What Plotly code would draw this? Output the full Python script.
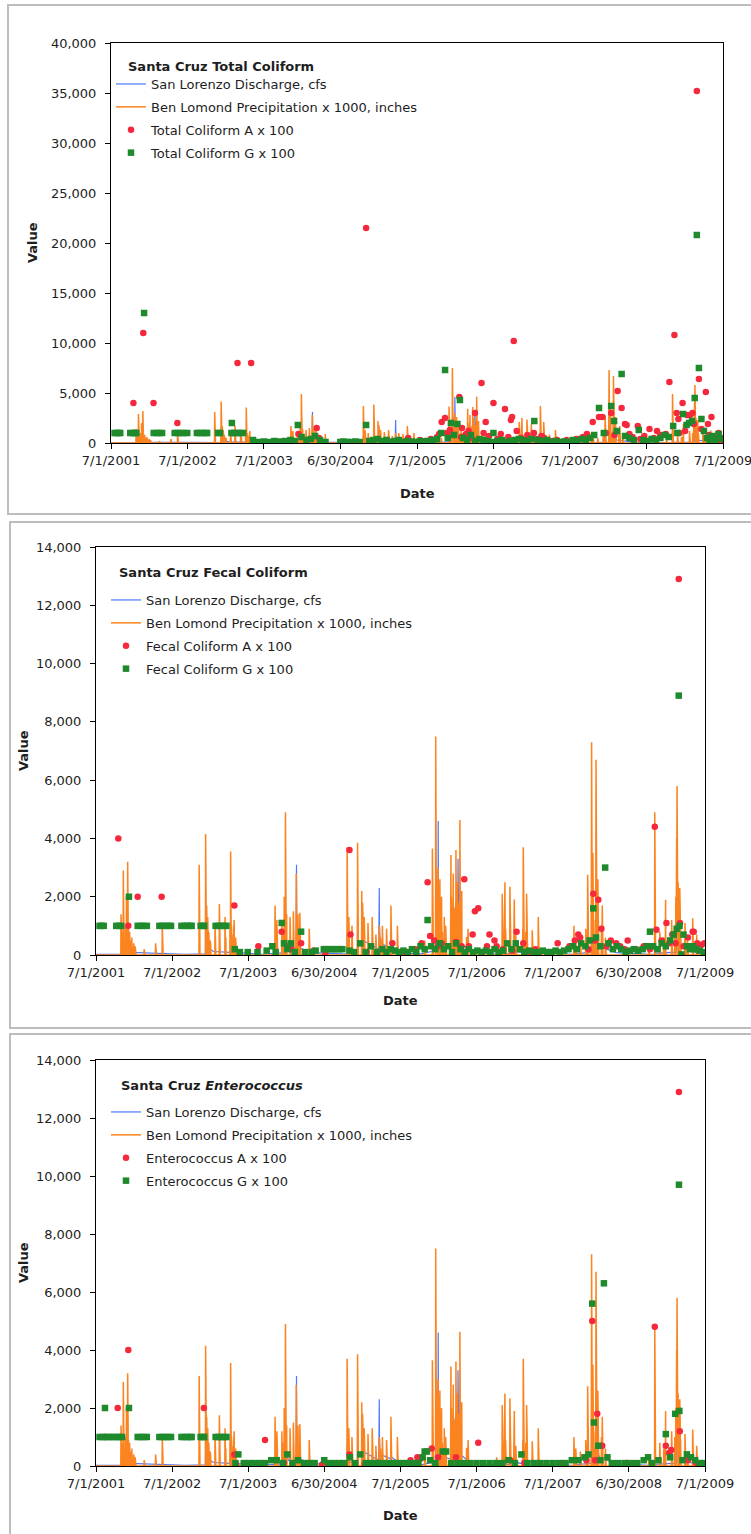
import pandas as pd
import plotly.graph_objects as go

W, H = 751, 1534

TICK_DATES = ["2001-07-01", "2002-07-01", "2003-07-01", "2004-06-30", "2005-07-01",
              "2006-07-01", "2007-07-01", "2008-06-30", "2009-07-01"]
TICK_LABELS = ["7/1/2001", "7/1/2002", "7/1/2003", "6/30/2004", "7/1/2005",
               "7/1/2006", "7/1/2007", "6/30/2008", "7/1/2009"]

# San Lorenzo River discharge, cfs
DISCHARGE = [
    ("2001-07-01", 20), ("2001-11-29", 30), ("2001-11-30", 600), ("2001-12-02", 150),
    ("2001-12-10", 90), ("2002-04-01", 60), ("2002-09-01", 25),
    ("2002-12-08", 40), ("2002-12-09", 1500), ("2002-12-11", 400), ("2002-12-20", 250),
    ("2003-01-15", 120), ("2003-04-07", 90), ("2003-04-08", 1200), ("2003-04-10", 300),
    ("2003-05-15", 80), ("2003-09-01", 25),
    ("2003-12-26", 80), ("2003-12-27", 1800), ("2003-12-29", 500), ("2004-01-10", 200),
    ("2004-02-16", 150), ("2004-02-17", 1200), ("2004-02-18", 3100), ("2004-02-19", 1500),
    ("2004-02-21", 600), ("2004-03-01", 250), ("2004-05-01", 80), ("2004-09-01", 25),
    ("2004-10-17", 30), ("2004-10-18", 700), ("2004-10-20", 150),
    ("2004-12-06", 80), ("2004-12-07", 1300), ("2004-12-09", 400), ("2004-12-30", 300),
    ("2004-12-31", 1500), ("2005-01-02", 500),
    ("2005-03-19", 200), ("2005-03-20", 900), ("2005-03-21", 2300), ("2005-03-22", 1000),
    ("2005-03-25", 400), ("2005-05-16", 250), ("2005-05-17", 800), ("2005-05-19", 300),
    ("2005-07-01", 80), ("2005-10-01", 30),
    ("2005-12-16", 150), ("2005-12-17", 2500), ("2005-12-19", 800), ("2005-12-28", 1500),
    ("2005-12-29", 4600), ("2005-12-30", 2000), ("2006-01-02", 800), ("2006-01-20", 300),
    ("2006-02-27", 250), ("2006-02-28", 1400), ("2006-03-02", 500), ("2006-03-24", 1800),
    ("2006-03-26", 700), ("2006-04-02", 900), ("2006-04-03", 3300), ("2006-04-04", 2500),
    ("2006-04-06", 1600), ("2006-04-09", 800), ("2006-04-14", 400), ("2006-06-01", 120),
    ("2006-10-01", 35),
    ("2006-12-07", 60), ("2006-12-08", 600), ("2006-12-10", 150), ("2007-02-09", 80),
    ("2007-02-10", 900), ("2007-02-12", 200), ("2007-05-01", 60), ("2007-10-01", 25),
    ("2008-01-03", 100), ("2008-01-04", 2600), ("2008-01-06", 900), ("2008-01-24", 300),
    ("2008-01-25", 2400), ("2008-01-27", 800), ("2008-02-10", 300), ("2008-05-01", 80),
    ("2008-10-01", 25), ("2008-11-01", 30), ("2008-11-02", 400), ("2008-11-04", 60),
    ("2009-02-14", 100), ("2009-02-15", 1200), ("2009-02-17", 2000), ("2009-02-19", 800),
    ("2009-03-02", 700), ("2009-03-05", 300), ("2009-04-15", 120), ("2009-07-01", 40),
]

# Ben Lomond daily precipitation x 1000, inches (days not listed had no rain)
PRECIP = [
    ("2001-10-29", 1400), ("2001-11-06", 800), ("2001-11-09", 2900), ("2001-11-12", 1200),
    ("2001-11-20", 1000), ("2001-11-24", 2000), ("2001-11-27", 1500), ("2001-11-30", 3200),
    ("2001-12-02", 1500), ("2001-12-04", 900), ("2001-12-09", 800), ("2001-12-14", 500),
    ("2001-12-20", 600), ("2001-12-29", 400), ("2002-01-05", 300), ("2002-02-17", 200),
    ("2002-04-13", 400), ("2002-05-15", 1000),
    ("2002-11-08", 3100), ("2002-11-10", 800), ("2002-12-09", 4150), ("2002-12-11", 1200),
    ("2002-12-12", 2000), ("2002-12-14", 1700), ("2002-12-15", 1000), ("2002-12-16", 1500),
    ("2002-12-17", 1100), ("2002-12-19", 1300), ("2002-12-21", 900), ("2002-12-24", 800),
    ("2002-12-27", 700), ("2002-12-30", 500), ("2003-01-02", 400), ("2003-01-23", 1100),
    ("2003-02-13", 1750), ("2003-02-15", 800), ("2003-03-12", 1300), ("2003-03-16", 600),
    ("2003-04-05", 900), ("2003-04-08", 3550), ("2003-04-12", 1000), ("2003-04-14", 700),
    ("2003-04-22", 800), ("2003-04-25", 1200), ("2003-05-02", 600),
    ("2003-11-07", 1700), ("2003-11-16", 1200), ("2003-12-10", 1200), ("2003-12-14", 800),
    ("2003-12-21", 2000), ("2003-12-24", 1000), ("2003-12-25", 1500), ("2003-12-27", 4900),
    ("2003-12-29", 1800), ("2003-12-30", 2500), ("2004-01-01", 900), ("2004-01-02", 1400),
    ("2004-01-18", 1300), ("2004-02-03", 1500), ("2004-02-16", 1200), ("2004-02-17", 2800),
    ("2004-02-18", 2000), ("2004-02-19", 900), ("2004-02-21", 1000), ("2004-02-25", 1400),
    ("2004-02-26", 800), ("2004-03-05", 1450), ("2004-04-19", 900),
    ("2004-10-18", 3700), ("2004-10-19", 1200), ("2004-10-23", 700), ("2004-10-26", 1300),
    ("2004-11-10", 1000), ("2004-12-07", 3850), ("2004-12-09", 1500), ("2004-12-27", 2200),
    ("2004-12-28", 1300), ("2004-12-30", 1100), ("2004-12-31", 1800), ("2005-01-01", 900),
    ("2005-01-03", 900), ("2005-01-07", 800), ("2005-01-08", 1300), ("2005-01-10", 700),
    ("2005-01-26", 1100), ("2005-02-15", 1300), ("2005-02-16", 700), ("2005-02-19", 600),
    ("2005-03-05", 700), ("2005-03-21", 1000), ("2005-03-22", 900), ("2005-03-27", 600),
    ("2005-04-05", 1000), ("2005-04-25", 900), ("2005-05-16", 1700), ("2005-05-19", 600),
    ("2005-06-16", 1000), ("2005-06-19", 950),
    ("2005-10-25", 500), ("2005-12-01", 3650), ("2005-12-02", 2000), ("2005-12-03", 1500),
    ("2005-12-17", 7500), ("2005-12-18", 2300), ("2005-12-19", 2000), ("2005-12-20", 1500),
    ("2005-12-21", 1800), ("2005-12-22", 2600), ("2005-12-25", 1600), ("2005-12-26", 2300),
    ("2005-12-28", 3000), ("2005-12-29", 1800), ("2005-12-30", 1400), ("2005-12-31", 2400),
    ("2006-01-02", 1500), ("2006-01-04", 1700), ("2006-01-06", 2600), ("2006-01-10", 1200),
    ("2006-01-14", 2000), ("2006-01-18", 800), ("2006-01-27", 1300), ("2006-02-03", 1000),
    ("2006-02-27", 1500), ("2006-02-28", 3430), ("2006-03-02", 2000), ("2006-03-03", 1500),
    ("2006-03-06", 1300), ("2006-03-09", 1800), ("2006-03-11", 2800), ("2006-03-13", 1500),
    ("2006-03-15", 1600), ("2006-03-18", 1200), ("2006-03-21", 1600), ("2006-03-24", 3600),
    ("2006-03-26", 1400), ("2006-03-28", 2000), ("2006-03-31", 2500), ("2006-04-02", 1200),
    ("2006-04-04", 1800), ("2006-04-06", 1500), ("2006-04-09", 1000), ("2006-04-12", 4630),
    ("2006-04-14", 1100), ("2006-04-16", 1400), ("2006-04-18", 900), ("2006-04-21", 2200),
    ("2006-05-14", 630), ("2006-05-21", 900),
    ("2006-10-05", 300), ("2006-11-01", 2100), ("2006-11-02", 1000), ("2006-11-12", 1100),
    ("2006-11-14", 2500), ("2006-11-15", 1200), ("2006-11-17", 900), ("2006-12-08", 2340),
    ("2006-12-09", 1000), ("2006-12-10", 1200), ("2006-12-12", 1500), ("2006-12-27", 800),
    ("2006-12-29", 1900), ("2007-01-05", 700), ("2007-02-08", 900), ("2007-02-10", 3700),
    ("2007-02-11", 1700), ("2007-02-13", 1000), ("2007-02-22", 800), ("2007-02-26", 2100),
    ("2007-02-27", 900), ("2007-03-25", 850), ("2007-04-23", 1300),
    ("2007-10-11", 1000), ("2007-10-20", 600), ("2007-11-11", 500), ("2007-12-07", 900),
    ("2007-12-16", 2750), ("2007-12-17", 1200), ("2007-12-18", 900), ("2007-12-20", 1500),
    ("2008-01-03", 2700), ("2008-01-04", 7300), ("2008-01-05", 3200), ("2008-01-06", 2500),
    ("2008-01-07", 1500), ("2008-01-10", 3500), ("2008-01-22", 1200), ("2008-01-24", 2000),
    ("2008-01-25", 6700), ("2008-01-26", 3400), ("2008-01-27", 2600), ("2008-01-28", 1800),
    ("2008-01-31", 1000), ("2008-02-02", 1500), ("2008-02-03", 2600), ("2008-02-05", 1950),
    ("2008-02-20", 1000), ("2008-02-23", 900), ("2008-02-24", 1700), ("2008-03-10", 600),
    ("2008-10-04", 400), ("2008-11-02", 4900), ("2008-11-26", 800), ("2008-12-15", 600),
    ("2008-12-23", 800), ("2008-12-24", 1900), ("2009-01-22", 1200), ("2009-02-06", 1000),
    ("2009-02-09", 900), ("2009-02-11", 2000), ("2009-02-13", 1500), ("2009-02-14", 2600),
    ("2009-02-15", 4000), ("2009-02-16", 3800), ("2009-02-17", 5800), ("2009-02-18", 2400),
    ("2009-02-20", 1800), ("2009-02-22", 2500), ("2009-02-23", 1200), ("2009-02-26", 1400),
    ("2009-03-01", 1200), ("2009-03-02", 2300), ("2009-03-03", 1800), ("2009-03-04", 1500),
    ("2009-03-06", 900), ("2009-03-27", 1100), ("2009-04-08", 500), ("2009-05-03", 1260),
    ("2009-05-05", 800), ("2009-05-22", 700),
]

# Total coliform (MPN/100 mL) x 100, sites A and G
TC_A = [
    ("2001-10-16", 4000), ("2001-12-02", 11000), ("2002-01-20", 4000), ("2002-05-14", 2000),
    ("2003-01-31", 1000), ("2003-02-25", 8000), ("2003-05-01", 8000), ("2003-12-13", 900),
    ("2004-03-09", 1500), ("2004-03-20", 500), ("2004-10-31", 21500), ("2005-02-10", 300),
    ("2005-04-01", 200), ("2005-05-20", 500), ("2005-07-15", 300), ("2005-08-10", 200),
    ("2005-09-05", 400), ("2005-10-05", 600), ("2005-10-15", 900), ("2005-10-27", 2100),
    ("2005-11-12", 2500), ("2005-11-20", 1000), ("2005-12-05", 1300), ("2005-12-20", 800),
    ("2006-01-19", 4600), ("2006-01-28", 600), ("2006-02-01", 1500), ("2006-02-20", 900),
    ("2006-03-04", 1200), ("2006-03-18", 500), ("2006-04-04", 3000), ("2006-05-05", 6000),
    ("2006-05-15", 1000), ("2006-05-25", 2100), ("2006-06-10", 700), ("2006-07-01", 4000),
    ("2006-07-20", 400), ("2006-08-05", 900), ("2006-08-25", 3400), ("2006-09-10", 600),
    ("2006-09-22", 2300), ("2006-09-28", 2600), ("2006-10-06", 10200), ("2006-10-20", 1200),
    ("2006-11-10", 500), ("2006-11-25", 300), ("2006-12-10", 800), ("2007-01-10", 1000),
    ("2007-01-25", 400), ("2007-02-15", 700), ("2007-03-01", 500), ("2007-04-10", 200),
    ("2007-05-01", 300), ("2007-06-15", 300), ("2007-08-01", 400), ("2007-09-01", 600),
    ("2007-09-20", 900), ("2007-10-18", 2100), ("2007-11-17", 2600), ("2007-12-03", 2600),
    ("2007-12-20", 1000), ("2008-01-14", 3000), ("2008-01-30", 800), ("2008-02-14", 5200),
    ("2008-03-04", 3500), ("2008-03-20", 1900), ("2008-03-28", 1800), ("2008-04-10", 900),
    ("2008-04-25", 600), ("2008-05-20", 1700), ("2008-06-01", 400), ("2008-06-20", 700),
    ("2008-07-15", 1400), ("2008-08-05", 500), ("2008-08-20", 1200), ("2008-09-05", 800),
    ("2008-10-01", 900), ("2008-10-18", 6100), ("2008-11-11", 10800), ("2008-11-22", 3000),
    ("2008-11-30", 2400), ("2008-12-05", 1000), ("2008-12-20", 4000), ("2009-01-01", 1200),
    ("2009-01-10", 2800), ("2009-01-25", 2800), ("2009-02-05", 3000), ("2009-02-12", 1900),
    ("2009-02-26", 35200), ("2009-03-08", 6400), ("2009-03-20", 1400), ("2009-04-10", 5100),
    ("2009-04-20", 1900), ("2009-04-25", 800), ("2009-05-07", 2600), ("2009-05-20", 600),
    ("2009-06-10", 1000), ("2009-06-20", 300), ("2009-06-25", 500),
]
TC_G = [
    ("2001-07-18", 1000), ("2001-07-28", 1000), ("2001-08-07", 1000), ("2001-08-14", 1000),
    ("2001-10-01", 1000), ("2001-10-13", 1000), ("2001-10-25", 1000), ("2001-10-30", 1000),
    ("2001-12-06", 13000),
    ("2002-01-21", 1000), ("2002-02-04", 1000), ("2002-02-18", 1000), ("2002-03-02", 1000),
    ("2002-05-01", 1000), ("2002-05-15", 1000), ("2002-05-29", 1000), ("2002-06-12", 1000),
    ("2002-06-30", 1000), ("2002-08-15", 1000), ("2002-08-29", 1000), ("2002-09-12", 1000),
    ("2002-09-26", 1000), ("2002-10-03", 1000), ("2002-11-24", 1000), ("2002-12-03", 1000),
    ("2003-01-27", 1000), ("2003-01-29", 2000), ("2003-02-10", 1000), ("2003-02-24", 1000),
    ("2003-03-10", 1000), ("2003-03-24", 1000),
    ("2003-05-10", 300), ("2003-06-05", 100), ("2003-07-01", 150), ("2003-07-25", 100),
    ("2003-08-20", 200), ("2003-09-15", 150), ("2003-10-10", 200), ("2003-11-05", 300),
    ("2003-11-25", 200), ("2003-12-10", 1800), ("2003-12-28", 600), ("2004-01-20", 300),
    ("2004-02-10", 400), ("2004-03-01", 700), ("2004-03-25", 300), ("2004-04-20", 100),
    ("2004-06-30", 100), ("2004-07-15", 150), ("2004-08-01", 100), ("2004-08-20", 100),
    ("2004-09-10", 150), ("2004-09-30", 100), ("2004-10-31", 1800), ("2004-11-15", 200),
    ("2004-12-05", 300), ("2004-12-25", 400), ("2005-01-15", 200), ("2005-02-05", 300),
    ("2005-02-25", 100), ("2005-03-15", 200), ("2005-04-05", 300), ("2005-04-25", 100),
    ("2005-05-15", 200), ("2005-06-05", 150), ("2005-06-25", 100), ("2005-07-15", 200),
    ("2005-08-05", 150), ("2005-08-25", 200), ("2005-09-15", 300), ("2005-10-05", 400),
    ("2005-10-25", 1000), ("2005-11-12", 7300), ("2005-11-25", 500), ("2005-12-10", 2000),
    ("2005-12-25", 800), ("2006-01-10", 1900), ("2006-01-22", 4300), ("2006-02-05", 500),
    ("2006-02-25", 300), ("2006-03-15", 800), ("2006-04-05", 200), ("2006-04-25", 400),
    ("2006-05-15", 300), ("2006-06-05", 200), ("2006-06-25", 100), ("2006-07-01", 1000),
    ("2006-07-20", 200), ("2006-08-10", 300), ("2006-08-30", 100), ("2006-09-20", 200),
    ("2006-10-10", 300), ("2006-10-30", 400), ("2006-11-20", 300), ("2006-12-10", 200),
    ("2006-12-30", 400), ("2007-01-12", 2200), ("2007-01-30", 300), ("2007-02-20", 200),
    ("2007-03-15", 300), ("2007-04-05", 100), ("2007-04-25", 200), ("2007-05-15", 100),
    ("2007-06-05", 150), ("2007-06-25", 100), ("2007-07-15", 300), ("2007-08-05", 200),
    ("2007-08-25", 400), ("2007-09-15", 300), ("2007-10-05", 500), ("2007-10-25", 800),
    ("2007-11-17", 3500), ("2007-12-10", 1000), ("2008-01-14", 3700), ("2008-01-28", 2200),
    ("2008-02-10", 1200), ("2008-03-04", 6900), ("2008-03-20", 700), ("2008-04-10", 500),
    ("2008-05-01", 300), ("2008-05-25", 1300), ("2008-06-15", 300), ("2008-07-05", 200),
    ("2008-07-25", 400), ("2008-08-15", 300), ("2008-09-05", 500), ("2008-09-25", 800),
    ("2008-10-15", 600), ("2008-11-05", 1700), ("2008-11-25", 1000), ("2008-12-22", 2900),
    ("2009-01-08", 1800), ("2009-01-20", 2000), ("2009-02-03", 2200), ("2009-02-16", 4500),
    ("2009-02-26", 20800), ("2009-03-08", 7500), ("2009-03-20", 2400), ("2009-04-01", 1200),
    ("2009-04-15", 500), ("2009-04-28", 100), ("2009-05-10", 700), ("2009-05-25", 300),
    ("2009-06-10", 900), ("2009-06-25", 400),
]

# Fecal coliform x 100, sites A and G
FC_A = [
    ("2001-10-16", 4000), ("2001-12-03", 1000), ("2002-01-17", 2000), ("2002-05-12", 2000),
    ("2003-04-26", 1700), ("2003-08-19", 300), ("2003-12-09", 800), ("2004-01-10", 300),
    ("2004-01-25", 200), ("2004-03-11", 400), ("2004-05-10", 150), ("2004-07-05", 50),
    ("2004-10-29", 3600), ("2004-11-03", 700), ("2005-01-20", 100), ("2005-05-23", 400),
    ("2005-07-20", 100), ("2005-09-10", 200), ("2005-10-10", 400), ("2005-11-08", 2500),
    ("2005-11-20", 650), ("2005-12-10", 500), ("2005-12-28", 300), ("2006-01-15", 400),
    ("2006-03-24", 450), ("2006-04-20", 300), ("2006-05-03", 2600), ("2006-05-25", 300),
    ("2006-06-12", 700), ("2006-06-23", 1500), ("2006-07-09", 1600), ("2006-08-20", 300),
    ("2006-09-01", 700), ("2006-09-25", 500), ("2006-10-05", 300), ("2006-11-05", 200),
    ("2006-12-20", 150), ("2007-01-09", 800), ("2007-02-10", 400), ("2007-03-05", 100),
    ("2007-04-10", 200), ("2007-07-25", 400), ("2007-09-20", 300), ("2007-10-15", 500),
    ("2007-11-01", 700), ("2007-11-10", 600), ("2007-12-20", 200), ("2008-01-12", 2100),
    ("2008-01-20", 500), ("2008-02-05", 1900), ("2008-02-20", 900), ("2008-03-15", 300),
    ("2008-04-05", 500), ("2008-05-01", 400), ("2008-05-20", 300), ("2008-06-10", 200),
    ("2008-06-25", 500), ("2008-08-05", 200), ("2008-09-10", 300), ("2008-10-10", 200),
    ("2008-11-02", 4400), ("2008-11-10", 870), ("2008-12-05", 500), ("2008-12-28", 1100),
    ("2009-01-10", 400), ("2009-01-25", 700), ("2009-02-10", 400), ("2009-02-25", 12900),
    ("2009-03-03", 1100), ("2009-03-20", 300), ("2009-04-10", 600), ("2009-05-03", 800),
    ("2009-05-08", 800), ("2009-05-25", 400), ("2009-06-15", 350), ("2009-06-28", 400),
]
FC_G = [
    ("2001-07-18", 1000), ("2001-07-28", 1000), ("2001-08-07", 1000),
    ("2001-10-06", 1000), ("2001-10-18", 1000), ("2001-10-30", 1000),
    ("2001-12-06", 2000),
    ("2002-01-17", 1000), ("2002-01-31", 1000), ("2002-02-14", 1000), ("2002-03-02", 1000),
    ("2002-05-01", 1000), ("2002-05-15", 1000), ("2002-05-29", 1000), ("2002-06-12", 1000),
    ("2002-06-26", 1000), ("2002-08-15", 1000), ("2002-08-29", 1000), ("2002-09-12", 1000),
    ("2002-09-26", 1000), ("2002-10-03", 1000), ("2002-11-15", 1000), ("2002-11-29", 1000),
    ("2002-12-02", 1000), ("2003-01-26", 1000), ("2003-02-09", 1000), ("2003-02-23", 1000),
    ("2003-03-09", 1000), ("2003-03-19", 1000),
    ("2003-04-28", 200), ("2003-05-22", 100), ("2003-06-29", 100), ("2003-08-15", 100),
    ("2003-09-28", 150), ("2003-10-25", 300), ("2003-11-10", 100), ("2003-12-09", 1100),
    ("2003-12-20", 400), ("2004-01-05", 200), ("2004-01-22", 400), ("2004-02-10", 100),
    ("2004-03-11", 800), ("2004-03-30", 100), ("2004-05-01", 100), ("2004-05-20", 150),
    ("2004-06-28", 200), ("2004-07-10", 200), ("2004-07-25", 200), ("2004-08-10", 200),
    ("2004-08-25", 200), ("2004-09-10", 200), ("2004-09-25", 200), ("2004-10-29", 150),
    ("2004-11-20", 100), ("2004-12-20", 400), ("2005-01-15", 100), ("2005-02-10", 300),
    ("2005-03-10", 100), ("2005-04-05", 200), ("2005-04-25", 100), ("2005-05-15", 200),
    ("2005-06-05", 150), ("2005-06-25", 100), ("2005-07-15", 150), ("2005-08-05", 100),
    ("2005-08-25", 200), ("2005-09-15", 100), ("2005-10-05", 300), ("2005-10-25", 200),
    ("2005-11-08", 1200), ("2005-11-25", 300), ("2005-12-15", 200), ("2006-01-05", 400),
    ("2006-01-25", 200), ("2006-02-15", 300), ("2006-03-05", 100), ("2006-03-25", 400),
    ("2006-04-15", 200), ("2006-05-05", 100), ("2006-05-25", 200), ("2006-06-15", 100),
    ("2006-07-05", 150), ("2006-07-25", 100), ("2006-08-15", 150), ("2006-09-05", 100),
    ("2006-09-25", 200), ("2006-10-15", 100), ("2006-11-05", 150), ("2006-11-25", 400),
    ("2006-12-15", 200), ("2007-01-05", 400), ("2007-01-25", 200), ("2007-02-15", 100),
    ("2007-03-10", 150), ("2007-04-01", 100), ("2007-04-25", 100), ("2007-05-15", 150),
    ("2007-06-05", 100), ("2007-06-25", 100), ("2007-07-15", 150), ("2007-08-05", 100),
    ("2007-08-25", 150), ("2007-09-15", 200), ("2007-10-05", 300), ("2007-10-25", 200),
    ("2007-11-15", 400), ("2007-12-05", 300), ("2007-12-25", 500), ("2008-01-12", 1600),
    ("2008-01-25", 600), ("2008-02-15", 300), ("2008-03-09", 3000), ("2008-03-25", 400),
    ("2008-04-15", 200), ("2008-05-05", 300), ("2008-05-25", 200), ("2008-06-15", 100),
    ("2008-07-05", 150), ("2008-07-25", 200), ("2008-08-15", 150), ("2008-09-05", 200),
    ("2008-09-25", 300), ("2008-10-10", 800), ("2008-10-25", 300), ("2008-11-15", 200),
    ("2008-12-05", 400), ("2008-12-25", 300), ("2009-01-15", 500), ("2009-02-01", 700),
    ("2009-02-15", 900), ("2009-02-25", 8900), ("2009-03-01", 1000), ("2009-03-10", 20),
    ("2009-03-20", 700), ("2009-04-05", 300), ("2009-04-20", 200), ("2009-05-05", 300),
    ("2009-05-20", 200), ("2009-06-05", 150), ("2009-06-25", 100),
]

# Enterococcus x 100, sites A and G
EN_A = [
    ("2001-08-13", 1000), ("2001-10-13", 2000), ("2001-12-03", 4000), ("2002-12-01", 2000),
    ("2003-04-26", 400), ("2003-05-05", 50), ("2003-09-20", 900), ("2003-12-20", 100),
    ("2004-06-20", 50), ("2004-10-29", 400), ("2005-01-10", 50), ("2005-08-18", 200),
    ("2005-09-20", 300), ("2005-10-05", 250), ("2005-11-28", 600), ("2005-12-28", 300),
    ("2006-03-24", 300), ("2006-07-09", 800), ("2006-12-10", 200), ("2007-02-15", 100),
    ("2007-08-15", 100), ("2007-12-10", 200), ("2008-01-07", 5000), ("2008-01-20", 200),
    ("2008-01-31", 1800), ("2008-02-24", 700), ("2008-06-20", 100), ("2008-11-02", 4800),
    ("2008-12-25", 700), ("2009-01-10", 450), ("2009-01-20", 550), ("2009-02-26", 12900),
    ("2009-03-02", 1200), ("2009-04-10", 200), ("2009-05-20", 100),
]
EN_G = [
    ("2001-07-18", 1000), ("2001-08-01", 1000), ("2001-08-13", 2000), ("2001-08-15", 1000),
    ("2001-08-29", 1000), ("2001-09-12", 1000), ("2001-09-26", 1000), ("2001-10-10", 1000),
    ("2001-10-24", 1000), ("2001-11-03", 1000), ("2001-12-06", 2000),
    ("2002-01-17", 1000), ("2002-01-31", 1000), ("2002-02-14", 1000), ("2002-03-02", 1000),
    ("2002-05-01", 1000), ("2002-05-15", 1000), ("2002-05-29", 1000), ("2002-06-12", 1000),
    ("2002-06-26", 1000), ("2002-08-15", 1000), ("2002-08-29", 1000), ("2002-09-12", 1000),
    ("2002-09-26", 1000), ("2002-10-03", 1000), ("2002-11-15", 1000), ("2002-11-29", 1000),
    ("2002-12-02", 1000), ("2003-01-26", 1000), ("2003-02-09", 1000), ("2003-02-23", 1000),
    ("2003-03-09", 1000), ("2003-03-19", 1000),
    ("2003-05-01", 100), ("2003-05-15", 400), ("2003-06-10", 100), ("2003-07-05", 100),
    ("2003-07-30", 100), ("2003-08-25", 100), ("2003-09-20", 100), ("2003-10-20", 200),
    ("2003-11-15", 200), ("2003-12-15", 100), ("2004-01-05", 400), ("2004-01-30", 100),
    ("2004-02-25", 200), ("2004-03-25", 100), ("2004-04-20", 100), ("2004-05-15", 100),
    ("2004-06-30", 200), ("2004-07-20", 100), ("2004-08-15", 100), ("2004-09-10", 100),
    ("2004-10-05", 100), ("2004-10-31", 300), ("2004-11-25", 100), ("2004-12-20", 400),
    ("2005-01-15", 100), ("2005-02-10", 100), ("2005-03-05", 100), ("2005-04-01", 100),
    ("2005-04-25", 100), ("2005-05-20", 100), ("2005-06-15", 100), ("2005-07-10", 100),
    ("2005-08-05", 100), ("2005-08-30", 100), ("2005-09-25", 100), ("2005-10-15", 300),
    ("2005-10-25", 500), ("2005-11-05", 500), ("2005-11-20", 200), ("2005-12-15", 100),
    ("2006-01-20", 500), ("2006-02-05", 500), ("2006-03-01", 100), ("2006-04-01", 100),
    ("2006-05-01", 100), ("2006-06-01", 100), ("2006-07-01", 100), ("2006-08-01", 100),
    ("2006-09-01", 100), ("2006-10-01", 100), ("2006-11-01", 100), ("2006-12-01", 200),
    ("2007-01-01", 100), ("2007-02-01", 400), ("2007-03-01", 100), ("2007-04-01", 100),
    ("2007-05-01", 100), ("2007-06-01", 100), ("2007-07-01", 100), ("2007-08-01", 100),
    ("2007-09-01", 100), ("2007-10-01", 200), ("2007-11-01", 200), ("2007-12-01", 300),
    ("2007-12-20", 400), ("2008-01-07", 5600), ("2008-01-15", 1500), ("2008-02-05", 700),
    ("2008-02-15", 200), ("2008-03-03", 6300), ("2008-03-20", 300), ("2008-04-10", 100),
    ("2008-05-10", 100), ("2008-06-10", 100), ("2008-07-10", 100), ("2008-08-10", 100),
    ("2008-09-10", 200), ("2008-10-01", 300), ("2008-10-20", 100), ("2008-11-20", 200),
    ("2008-12-25", 1100), ("2009-01-15", 300), ("2009-02-08", 1800), ("2009-02-26", 9700),
    ("2009-02-28", 1900), ("2009-03-15", 200), ("2009-04-05", 400), ("2009-04-25", 300),
    ("2009-05-15", 200), ("2009-06-05", 100), ("2009-06-25", 100),
]

BLUE = "#4a78ff"
ORANGE = "#fb8420"
RED = "#f5283c"
GREEN = "#1e8a2c"
FONT = "DejaVu Sans"
INK = "#1e1e1e"

# daily precipitation record: dry days are zero
all_days = pd.date_range("2001-07-01", "2009-07-01", freq="D")
precip = pd.Series([v for _, v in PRECIP], index=pd.to_datetime([d for d, _ in PRECIP]))
precip_daily = precip.groupby(level=0).max().reindex(all_days, fill_value=0)


def xy(pairs):
    return [d for d, _ in pairs], [v for _, v in pairs]


# panel geometry in pixels: plot-area left, right, top, bottom
PANELS = [
    dict(name="Total Coliform", title="<b>Santa Cruz Total Coliform</b>", a=TC_A, g=TC_G,
         box=(111, 723, 43, 443), ymax=40000, dtick=5000,
         title_xy=(126, 66), legend_xy=(111, 69), value_x=33, date_y=493),
    dict(name="Fecal Coliform", title="<b>Santa Cruz Fecal Coliform</b>", a=FC_A, g=FC_G,
         box=(96, 705, 547, 955), ymax=14000, dtick=2000,
         title_xy=(117, 572), legend_xy=(106, 585), value_x=23, date_y=1000),
    dict(name="Enterococcus", title="<b>Santa Cruz <i>Enterococcus</i></b>", a=EN_A, g=EN_G,
         box=(96, 705, 1060, 1466), ymax=14000, dtick=2000,
         title_xy=(119, 1085), legend_xy=(106, 1097), value_x=23, date_y=1515),
]

fig = go.Figure()
layout = dict(
    width=W, height=H, margin=dict(l=0, r=0, t=0, b=0, autoexpand=False),
    paper_bgcolor="white", plot_bgcolor="white",
    font=dict(family=FONT, size=13, color=INK),
    annotations=[], shapes=[],
)

# outer chart frames
for (y0, y1, x0) in [(5, 514, 8), (522, 1028, 10), (1034, 1545, 10)]:
    layout["shapes"].append(dict(type="rect", xref="paper", yref="paper",
                                 x0=x0 / W, x1=1.02, y0=1 - y1 / H, y1=1 - y0 / H,
                                 line=dict(color="#bdbdbd", width=2), layer="below"))

for i, p in enumerate(PANELS, start=1):
    sfx = "" if i == 1 else str(i)
    leg = "legend" + sfx
    xa, ya = "x" + sfx, "y" + sfx
    l, r, t, b = p["box"]

    fig.add_trace(go.Scatter(
        x=[d for d, _ in DISCHARGE], y=[v for _, v in DISCHARGE], mode="lines",
        name="San Lorenzo Discharge, cfs", line=dict(color=BLUE, width=1.2),
        xaxis=xa, yaxis=ya, legend=leg, legendgroup=f"q{i}"))
    fig.add_trace(go.Scatter(
        x=precip_daily.index, y=precip_daily.values, mode="lines",
        name="Ben Lomond Precipitation x 1000, inches", line=dict(color=ORANGE, width=1.5),
        xaxis=xa, yaxis=ya, legend=leg, legendgroup=f"p{i}"))
    ax, ay = xy(p["a"])
    fig.add_trace(go.Scatter(
        x=ax, y=ay, mode="markers", name=f"{p['name']} A x 100",
        marker=dict(color=RED, size=6.5, symbol="circle"),
        xaxis=xa, yaxis=ya, legend=leg, legendgroup=f"a{i}"))
    gx, gy = xy(p["g"])
    fig.add_trace(go.Scatter(
        x=gx, y=gy, mode="markers", name=f"{p['name']} G x 100",
        marker=dict(color=GREEN, size=6.5, symbol="square"),
        xaxis=xa, yaxis=ya, legend=leg, legendgroup=f"g{i}"))

    layout["xaxis" + sfx] = dict(
        domain=[l / W, r / W], anchor=ya, type="date", automargin=False,
        range=["2001-07-01", "2009-07-01"],
        tickvals=TICK_DATES, ticktext=TICK_LABELS, ticklabeloverflow="allow",
        showline=True, linecolor="black", linewidth=1, mirror=True,
        ticks="outside", ticklen=5, tickcolor="black",
        showgrid=False, zeroline=False,
        tickfont=dict(family=FONT, size=13, color=INK),
    )
    layout["yaxis" + sfx] = dict(
        domain=[1 - b / H, 1 - t / H], anchor=xa, automargin=False,
        range=[0, p["ymax"]], dtick=p["dtick"], tick0=0, tickformat=",d",
        showline=True, linecolor="black", linewidth=1, mirror=True,
        ticks="outside", ticklen=5, tickcolor="black",
        showgrid=False, zeroline=False, ticklabelstandoff=6,
        tickfont=dict(family=FONT, size=13, color=INK),
    )
    lx, ly = p["legend_xy"]
    layout[leg] = dict(
        x=lx / W, y=1 - ly / H, xanchor="left", yanchor="top",
        bgcolor="rgba(0,0,0,0)", borderwidth=0,
        font=dict(family=FONT, size=13, color=INK),
        itemwidth=30, traceorder="grouped", tracegroupgap=3,
    )
    tx, ty = p["title_xy"]
    layout["annotations"].append(dict(
        text=p["title"], x=tx / W, y=1 - ty / H, xref="paper", yref="paper",
        xanchor="left", yanchor="middle", showarrow=False,
        font=dict(family=FONT, size=13, color=INK)))
    layout["annotations"].append(dict(
        text="<b>Value</b>", x=p["value_x"] / W, y=1 - ((t + b) / 2) / H,
        xref="paper", yref="paper", xanchor="center", yanchor="middle",
        textangle=-90, showarrow=False, font=dict(family=FONT, size=13, color=INK)))
    layout["annotations"].append(dict(
        text="<b>Date</b>", x=((l + r) / 2) / W, y=1 - p["date_y"] / H,
        xref="paper", yref="paper", xanchor="center", yanchor="middle",
        showarrow=False, font=dict(family=FONT, size=13, color=INK)))

fig.update_layout(**layout)
fig.write_html("out.html")
